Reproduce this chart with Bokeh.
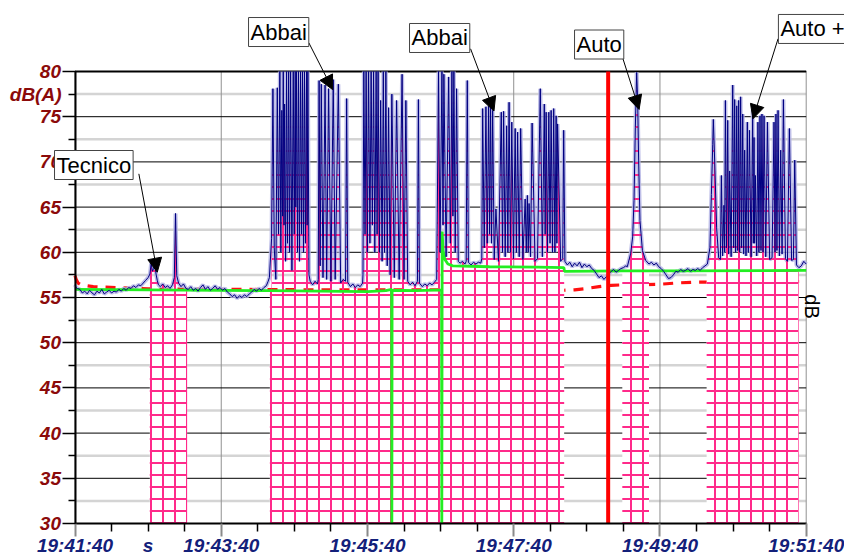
import math
import numpy as np
from bokeh.plotting import figure
from bokeh.models import Range1d, FixedTicker, Label, Arrow, NormalHead
from bokeh.embed import file_html
from bokeh.resources import INLINE

# ---------------- data (seconds after 19:41:40, dB(A)) ----------------
x_tick_seconds = [0, 120, 240, 360, 480, 600]
x_tick_labels = ["19:41:40", "19:43:40", "19:45:40", "19:47:40", "19:49:40", "19:51:40"]
x_minor_seconds = [30, 60, 90, 150, 180, 210, 270, 300, 330, 390, 420, 450, 510, 540, 570]
y_ticks = [30, 35, 40, 45, 50, 55, 60, 65, 70, 75, 80]
y_minor = [32.5, 37.5, 42.5, 47.5, 52.5, 57.5, 62.5, 67.5, 72.5, 77.5]

# level trace (values at the top of the scale are off-scale peaks, shown as 80)
blue = [
    (0, 56.4), (1, 56.1), (2, 56.0), (4, 55.9), (6, 55.5), (8, 55.7), (10, 55.4), (12, 55.8),
    (14, 55.5), (16, 55.3), (18, 55.7), (20, 55.5), (22, 55.9), (24, 55.4), (26, 55.6), (28, 55.8),
    (30, 55.5), (32, 55.7), (34, 55.6), (36, 55.9), (38, 55.7), (40, 56.0), (42, 55.8), (44, 56.1),
    (46, 56.0), (48, 56.3), (50, 56.1), (52, 56.4), (54, 56.3), (56, 56.6), (58, 56.9), (60, 57.2),
    (61.5, 57.6), (62.5, 58.8), (63.5, 57.9), (64.5, 58.2), (65.5, 58.7), (66.5, 57.6), (67.5, 56.9),
    (68.5, 56.4), (70, 56.2), (72, 56.5), (74, 56.1), (76, 56.3), (78, 56.0), (80, 56.4),
    (81.5, 57.2), (82.5, 64.3), (83.5, 57.4), (85, 56.6), (87, 56.2), (89, 56.5), (91, 56.0),
    (93, 55.9), (95, 56.2), (97, 55.8), (99, 56.0), (101, 55.7), (103, 56.1), (105, 56.4), (107, 55.9),
    (109, 56.2), (111, 55.8), (113, 56.0), (115, 56.3), (117, 55.9), (119, 56.1), (121, 55.8),
    (123, 56.0), (125, 55.6), (127, 55.4), (129, 55.1), (131, 55.3), (133, 54.9), (135, 55.2),
    (137, 55.0), (139, 55.3), (141, 55.1), (143, 55.4), (145, 55.6), (147, 55.9), (149, 55.7),
    (151, 56.0), (153, 55.8), (155, 56.1), (157, 56.3), (158.5, 56.8),
    # first "Abbai" burst
    (159.5, 57.2), (161.3, 61.5), (162.4, 78.1), (163.5, 60.5), (164.8, 57.0), (166.0, 78.2),
    (167.0, 62.0), (168.1, 80.0), (168.9, 60.0), (169.7, 75.7), (170.3, 64.0), (170.9, 80.0),
    (171.5, 63.0), (172.0, 76.4), (172.8, 59.0), (173.6, 80.0), (174.4, 61.0), (175.3, 80.0),
    (176.1, 60.0), (176.9, 80.0), (178.0, 58.0), (179.1, 80.0), (179.9, 62.0), (180.7, 80.0),
    (181.2, 65.0), (181.8, 80.0), (182.6, 60.0), (183.4, 80.0), (184.2, 59.0), (185.1, 80.0),
    (185.9, 62.0), (186.7, 80.0), (187.5, 60.0), (188.3, 80.0), (189.1, 61.0), (190.0, 80.0),
    (190.5, 63.0), (191.1, 80.0), (192.0, 57.5), (193.0, 56.8), (195.0, 56.4), (197.0, 56.8),
    (199.0, 56.5),
    (199.6, 57.0), (200.3, 79.0), (201.2, 58.5), (202.1, 78.6), (203.5, 57.2), (205.2, 78.5),
    (206.5, 57.0), (208.1, 78.1), (210.0, 56.8), (211.9, 79.1), (213.5, 57.0), (216.1, 78.6),
    (218.0, 56.6), (220.0, 57.0), (222.0, 56.8), (222.9, 77.0), (223.8, 56.7), (226.0, 56.2),
    (228.0, 56.5), (230.0, 56.1), (232.0, 56.4), (234.0, 56.2), (236.0, 56.6),
    (236.3, 57.5), (237.0, 80.0), (238.0, 62.0), (238.9, 80.0), (239.9, 60.0), (240.9, 80.0),
    (242.0, 61.0), (243.0, 80.0), (244.0, 63.0), (245.0, 80.0), (246.0, 60.0), (247.1, 80.0),
    (247.9, 62.0), (248.7, 80.0), (249.8, 60.0), (250.8, 76.8), (252.0, 59.0), (253.0, 80.0),
    (254.0, 60.0), (255.1, 80.0), (256.2, 58.5), (257.3, 76.0), (258.6, 57.5), (260.0, 77.5),
    (262.0, 57.2), (263.9, 76.8), (266.0, 57.0), (268.4, 79.7), (270.0, 57.0), (271.5, 76.8),
    (273.0, 56.8), (275.0, 56.4), (277.0, 56.7), (279.0, 56.3), (281.0, 56.8), (281.8, 76.9),
    (282.6, 56.6), (285.0, 56.2), (287.0, 56.5), (289.0, 56.3), (291.0, 56.6), (293.0, 56.4),
    (295.0, 56.7),
    (296.8, 57.0), (298.3, 80.0), (299.5, 60.0), (301.1, 80.0), (302.0, 63.0), (302.7, 79.7),
    (304.5, 59.5), (306.6, 79.4), (308.0, 61.0), (309.3, 80.0), (310.1, 64.0), (310.9, 80.0),
    (312.0, 60.0), (313.1, 78.1), (314.5, 59.0), (316.0, 58.8), (318.0, 59.0), (320.0, 58.7),
    (321.0, 59.0), (321.9, 79.0), (322.8, 58.9), (325.0, 58.6), (327.0, 58.9), (329.0, 58.7),
    (331.0, 58.9), (333.0, 58.8),
    # second "Abbai" burst
    (333.8, 59.3), (334.5, 75.9), (335.8, 60.5), (337.2, 76.1), (338.3, 61.0), (339.4, 76.2),
    (340.2, 62.0), (341.0, 76.4), (341.8, 61.0), (342.7, 75.7), (344.0, 59.2), (345.4, 64.8),
    (347.5, 59.0), (349.8, 75.5), (350.8, 60.0), (351.7, 75.6), (353.0, 59.5), (354.2, 74.0),
    (355.2, 60.0), (356.2, 76.6), (357.3, 60.0), (358.4, 74.4), (359.8, 59.3), (361.2, 73.7),
    (362.2, 60.0), (363.2, 73.3), (364.5, 59.5), (365.7, 73.7), (367.5, 59.2), (369.4, 65.9),
    (370.3, 60.0), (371.2, 66.3), (371.9, 60.0), (372.6, 65.4), (373.8, 59.5), (375.1, 74.3),
    (377.5, 59.0), (379.5, 59.3), (381.8, 78.1), (383.5, 59.5), (385.1, 76.4), (385.8, 62.0),
    (386.6, 75.5), (387.7, 60.0), (388.8, 75.5), (389.8, 61.0), (390.7, 75.7), (391.8, 60.0),
    (392.8, 75.9), (393.8, 60.0), (394.8, 75.1), (395.4, 61.0), (396.0, 74.2), (398.5, 59.0),
    (400.2, 59.3), (401.0, 73.5), (402.0, 59.0),
    (404, 58.6), (406, 58.9), (408, 58.4), (410, 58.8), (412, 58.5), (414, 58.9), (416, 58.3),
    (418, 58.7), (420, 58.4), (422, 58.6), (424, 58.2), (426, 58.0), (428, 57.6), (430, 57.2),
    (432, 57.4), (434, 57.0), (436, 57.3), (438, 57.6), (440, 57.9), (442, 58.1), (444, 57.8),
    (446, 58.0), (448, 58.2), (450, 58.3), (452, 58.5),
    # "Auto"
    (453.2, 58.4), (456.0, 59.9), (457.6, 61.7), (458.7, 65.7), (459.8, 73.8), (460.9, 79.9),
    (461.7, 76.8), (462.5, 70.2), (463.6, 63.5), (465.6, 60.2), (468.3, 59.1), (471.0, 58.7),
    (473, 58.9), (475, 58.6), (477, 58.8), (479, 58.4), (481, 58.2), (483, 57.9), (485, 57.5),
    (487, 57.1), (489, 57.2), (491, 57.5), (493, 57.9), (495, 57.8), (497, 58.1), (499, 57.9),
    (501, 58.0), (503, 58.2), (505, 57.9), (507, 58.1), (509, 58.0), (511, 58.2), (513, 58.0),
    (515, 58.3), (517, 58.5),
    # "Auto +" burst
    (518.9, 58.7), (521.0, 60.5), (522.2, 66.4), (523.3, 71.9), (523.8, 74.7), (524.9, 70.1),
    (526.5, 62.7), (528.2, 59.4), (529.6, 59.2), (530.4, 68.5), (531.4, 59.6), (532.5, 65.2),
    (533.1, 60.0), (533.7, 76.8), (534.6, 60.5), (535.6, 74.6), (536.4, 59.8), (537.2, 69.0),
    (538.4, 59.5), (539.7, 78.5), (540.5, 60.5), (541.3, 76.9), (542.1, 60.0), (543.0, 76.2),
    (543.8, 60.2), (544.6, 76.8), (545.4, 60.0), (546.2, 77.2), (547.0, 60.5), (547.9, 75.3),
    (548.7, 59.8), (549.5, 71.3), (550.6, 59.6), (551.7, 74.4), (552.5, 60.0), (553.4, 73.5),
    (554.8, 59.5), (556.1, 75.7), (556.6, 61.0), (557.2, 72.7), (557.7, 61.0), (558.3, 68.5),
    (559.4, 59.6), (560.4, 74.4), (561.2, 60.0), (562.1, 75.1), (562.9, 60.2), (563.7, 75.3),
    (564.6, 60.0), (565.4, 75.1), (566.8, 59.5), (568.2, 74.4), (570.0, 59.2), (572.0, 59.4),
    (573.6, 74.4), (574.4, 60.0), (575.2, 75.3), (576.0, 60.2), (576.9, 75.7), (578.0, 59.6),
    (579.1, 71.3), (580.2, 59.8), (581.3, 76.9), (583.0, 59.3), (584.6, 59.0), (586.2, 73.7),
    (588.0, 59.1), (589.5, 59.2), (590.6, 70.2), (592.0, 58.6), (594.0, 58.3), (596.0, 58.5),
    (598.0, 59.0), (600.0, 58.7),
]

# residual level (drops to the bottom of the scale twice)
green = [
    (0, 55.9), (60, 55.85), (160, 55.75), (200, 55.7), (240, 55.65), (255, 55.75), (259.8, 55.9),
    (260.0, 30.0), (260.2, 55.8), (280, 55.75), (300.8, 55.85), (301.0, 30.0), (301.3, 62.3),
    (302.0, 60.2), (303.5, 59.2), (306, 58.7), (310, 58.5), (340, 58.4), (380, 58.35),
    (401.2, 58.3), (401.6, 57.9), (450, 57.95), (500, 57.95), (600, 58.0),
]

red = [
    (0, 57.4), (1, 57.0), (2.5, 56.6), (5, 56.4), (15, 56.2), (60, 55.95), (200, 55.85),
    (300, 55.85), (401, 55.8), (410, 55.85), (420, 56.0), (430, 56.2), (440, 56.35),
    (450, 56.4), (478, 56.45), (493, 56.6), (508, 56.7), (600, 56.75),
]

mask_start = [61.4, 159.9, 300.9, 449.1, 518.3]
mask_end = [92.0, 300.9, 401.4, 471.0, 593.8]
mask_top = [55.7, 55.7, 58.3, 57.9, 57.9]

cursor_t = 437.5

# text, label anchor (t, dB), arrow tail (t, dB), arrow tip (t, dB)
callouts = [
    ("Tecnico", -16.8, 71.26, 52.4, 68.68, 67.5, 57.8),
    ("Abbai", 142.4, 85.97, 191.9, 83.17, 211.4, 78.0),
    ("Abbai", 274.5, 85.31, 324.6, 82.51, 343.8, 75.63),
    ("Auto", 409.9, 84.59, 448.6, 81.85, 462.9, 75.8),
    ("Auto +", 577.2, 86.31, 576.9, 83.62, 556.3, 74.77),
]

blue_t = np.array([p[0] for p in blue])
blue_db = np.array([p[1] for p in blue])
green_t = [p[0] for p in green]
green_db = [p[1] for p in green]
red_t = [p[0] for p in red]
red_db = [p[1] for p in red]

# ---------------- layout: plot area inside an 844x556 canvas ----------------
W, H = 844, 556
AREA_L, AREA_R, AREA_T, AREA_B = 74.5, 805.7, 71.0, 523.0
T0, T1, V0, V1 = 0.0, 600.0, 30.0, 80.0
px_s = (AREA_R - AREA_L) / (T1 - T0)
px_db = (AREA_B - AREA_T) / (V1 - V0)
x_range = Range1d(T0 - AREA_L / px_s, T1 + (W - AREA_R) / px_s)
y_range = Range1d(V0 - (H - AREA_B) / px_db, V1 + AREA_T / px_db)

p = figure(width=W, height=H, x_range=x_range, y_range=y_range,
           output_backend="svg", toolbar_location=None,
           min_border=0, min_border_left=0, min_border_right=0, min_border_top=0,
           min_border_bottom=0, background_fill_color="white", border_fill_color="white",
           outline_line_color=None)
p.xgrid.visible = False
p.ygrid.visible = False

FONT = "Liberation Sans"
X_LABEL_STANDOFF = -2
X_TICK_OUT = 13

xa = p.xaxis[0]
xa.fixed_location = V0
xa.bounds = (T0, T1)
xa.ticker = FixedTicker(ticks=x_tick_seconds, minor_ticks=x_minor_seconds)
xa.major_label_overrides = {s: l for s, l in zip(x_tick_seconds, x_tick_labels)}
xa.major_label_text_font = FONT
xa.major_label_text_font_style = "bold italic"
xa.major_label_text_font_size = "19px"
xa.major_label_text_color = "#13207a"
xa.major_label_standoff = X_LABEL_STANDOFF
xa.major_tick_out = X_TICK_OUT
xa.major_tick_in = 0
xa.minor_tick_out = 8
xa.minor_tick_in = 0
xa.major_tick_line_color = "#8a8a8a"
xa.major_tick_line_width = 2
xa.minor_tick_line_color = "black"
xa.minor_tick_line_width = 1.5
xa.axis_line_color = "black"
xa.axis_line_width = 2

ya = p.yaxis[0]
ya.fixed_location = T0
ya.bounds = (V0, V1)
ya.ticker = FixedTicker(ticks=y_ticks, minor_ticks=y_minor)
ya.major_label_text_font = FONT
ya.major_label_text_font_style = "bold italic"
ya.major_label_text_font_size = "19px"
ya.major_label_text_color = "#8b0a0a"
ya.major_label_standoff = 1
ya.major_tick_out = 13
ya.major_tick_in = 0
ya.minor_tick_out = 7
ya.minor_tick_in = 0
ya.major_tick_line_color = "black"
ya.major_tick_line_width = 1.5
ya.minor_tick_line_color = "black"
ya.minor_tick_line_width = 1.5
ya.axis_line_color = "black"
ya.axis_line_width = 2

# grid lines, limited to the plot area
p.segment(x0=T0, x1=T1, y0=y_minor, y1=y_minor, line_color="#d4d4d4", line_width=2.5)
p.segment(x0=x_tick_seconds, x1=x_tick_seconds, y0=V0, y1=V1, line_color="#909090", line_width=1)
p.segment(x0=T0, x1=T1, y0=y_ticks, y1=y_ticks, line_color="black", line_width=1)
p.segment(x0=T0, x1=T1, y0=V1, y1=V1, line_color="black", line_width=2)

HATCH = dict(hatch_pattern="+", hatch_color="#ff2a8a", hatch_weight=2, hatch_scale=12)

# reference level (red dashed)
p.line(red_t, red_db, line_color="#ff1010", line_width=3.2, line_dash="10 8")
# soft halo of the level trace
p.line(blue_t, blue_db, line_color="#b4b4e4", line_width=4, line_alpha=0.85)
# masked periods
p.quad(left=mask_start, right=mask_end, bottom=V0, top=mask_top,
       fill_color="white", line_color=None, **HATCH)
for s, e in zip(mask_start, mask_end):
    m = (blue_t >= s) & (blue_t <= e)
    p.varea(x=blue_t[m], y1=V0, y2=blue_db[m], fill_alpha=0, **HATCH)
# residual level (green)
p.line(green_t, green_db, line_color="#22ee22", line_width=2.8)
# level trace
p.line(blue_t, blue_db, line_color="#000080", line_width=1.0)

# cursor
p.segment(x0=[cursor_t], x1=[cursor_t], y0=V0, y1=V1, line_color="#ff0000", line_width=4)

for text, lx, ly, t0, v0, t1, v1 in callouts:
    p.add_layout(Arrow(x_start=t0, y_start=v0, x_end=t1, y_end=v1, line_color="black",
                       line_width=1,
                       end=NormalHead(size=14, fill_color="black", line_color="black")))
for text, lx, ly, t0, v0, t1, v1 in callouts:
    p.add_layout(Label(x=lx, y=ly, text=text, text_align="left", text_baseline="top",
                       text_font=FONT, text_font_size="22px", text_color="black",
                       background_fill_color="white", border_line_color="#444444",
                       border_line_width=1, padding=2))

p.add_layout(Label(x=-11.1, y=77.5, text="dB(A)", text_align="right", text_baseline="middle",
                   text_font=FONT, text_font_style="bold italic", text_font_size="19px",
                   text_color="#8b0a0a"))
# unit label "s" in the row of the time labels
s_label_y = V0 - (X_TICK_OUT + X_LABEL_STANDOFF) / px_db
p.add_layout(Label(x=60, y=s_label_y, text="s", text_align="center", text_baseline="top",
                   text_font=FONT, text_font_style="bold italic", text_font_size="19px",
                   text_color="#13207a"))
p.add_layout(Label(x=604.4, y=54.0, text="dB", angle=-math.pi / 2, text_align="center",
                   text_baseline="middle", text_font=FONT, text_font_size="20px",
                   text_color="black"))

open("out.html", "w").write(file_html(p, INLINE))
